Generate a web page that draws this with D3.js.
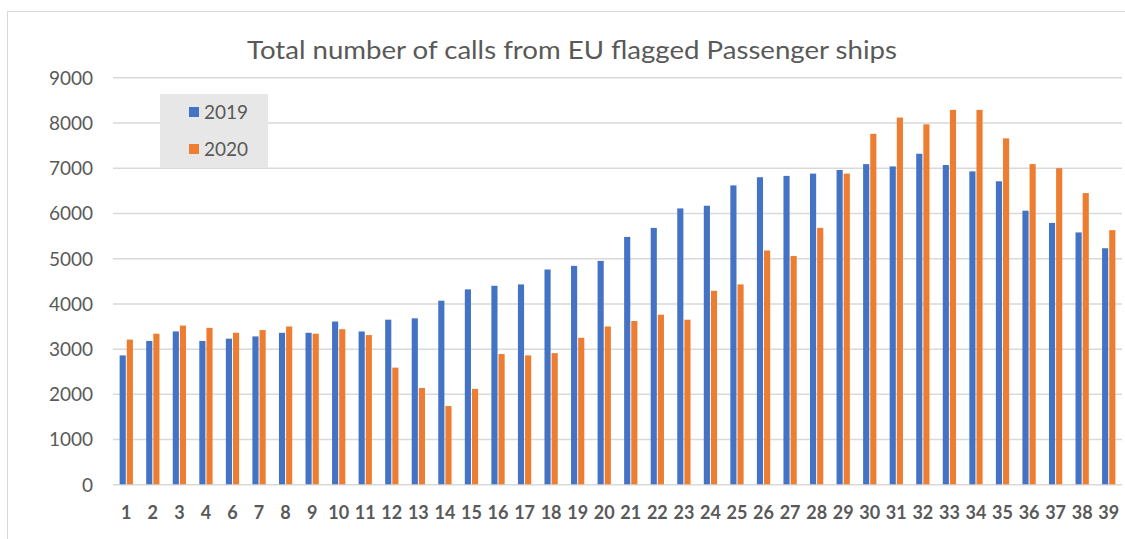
<!DOCTYPE html>
<html>
<head>
<meta charset="utf-8">
<script src="https://cdn.jsdelivr.net/npm/d3@7"></script>
<style>
  html, body { margin: 0; padding: 0; background: #ffffff; }
  svg { display: block; }
</style>
</head>
<body>
<svg id="chart" width="1125" height="539"></svg>
<script>
// Week numbers (week 5 is absent from the source series)
const categories = ["1","2","3","4","6","7","8","9","10","11","12","13","14","15","16","17","18","19","20",
  "21","22","23","24","25","26","27","28","29","30","31","32","33","34","35","36","37","38","39"];

const series = ["2019", "2020"];

const values2019 = [2850,3170,3380,3170,3220,3270,3350,3350,3600,3380,3640,3670,4060,4310,4390,4420,4750,4830,4940,
  5470,5670,6100,6160,6610,6790,6820,6870,6950,7080,7030,7310,7060,6920,6700,6050,5780,5570,5220];

const values2020 = [3200,3330,3510,3460,3350,3410,3490,3330,3430,3300,2580,2130,1730,2110,2880,2850,2900,3240,3490,
  3610,3750,3640,4280,4420,5170,5050,5670,6870,7750,8110,7960,8280,8280,7650,7080,6990,6440,5620];

const yTicks = [0,1000,2000,3000,4000,5000,6000,7000,8000,9000];

const colors = { "2019": "#4472C4", "2020": "#ED7D31" };
const title = "Total number of calls from EU flagged Passenger ships";

const svg = d3.select("#chart");

// chart frame
svg.append("rect")
  .attr("x", 7.5).attr("y", 11.5)
  .attr("width", 1140).attr("height", 560)
  .attr("fill", "#ffffff")
  .attr("stroke", "#d9d9d9")
  .attr("stroke-width", 1);

const plot = { left: 113, right: 1122, top: 77.3, bottom: 484.3 };

const y = d3.scaleLinear().domain([0, 9000]).range([plot.bottom, plot.top]);

const x0 = d3.scaleBand()
  .domain(categories)
  .range([plot.left, plot.right])
  .paddingInner(0.5)
  .paddingOuter(0.25);

const x1 = d3.scaleBand()
  .domain(series)
  .range([0, x0.bandwidth()])
  .paddingInner(0.14);

// horizontal gridlines
const yAxis = d3.axisLeft(y)
  .tickValues(yTicks)
  .tickSize(-(plot.right - plot.left))
  .tickPadding(20)
  .tickFormat(d3.format("d"));

const gy = svg.append("g")
  .attr("transform", `translate(${plot.left},0)`)
  .call(yAxis);
gy.select(".domain").remove();
gy.selectAll(".tick line")
  .attr("stroke", "#d9d9d9")
  .attr("stroke-width", 1.5);
gy.selectAll(".tick text")
  .attr("fill", "#595959")
  .attr("font-family", "Lato, 'Open Sans', sans-serif")
  .attr("font-size", 19)
  .attr("dy", "0.36em");

// bars
const rows = categories.map((c, i) => ({ cat: c, "2019": values2019[i], "2020": values2020[i] }));

const groups = svg.append("g")
  .selectAll("g")
  .data(rows)
  .join("g")
  .attr("transform", d => `translate(${x0(d.cat)},0)`);

groups.selectAll("rect")
  .data(d => series.map(s => ({ key: s, value: d[s] })))
  .join("rect")
  .attr("x", d => x1(d.key))
  .attr("y", d => y(d.value))
  .attr("width", x1.bandwidth())
  .attr("height", d => y(0) - y(d.value))
  .attr("fill", d => colors[d.key]);

// x axis labels
const xAxis = d3.axisBottom(x0).tickSize(0).tickPadding(22);
const gx = svg.append("g")
  .attr("transform", `translate(0,${plot.bottom})`)
  .call(xAxis);
gx.select(".domain").remove();
gx.selectAll(".tick text")
  .attr("fill", "#595959")
  .attr("font-family", "Lato, 'Open Sans', sans-serif")
  .attr("font-weight", "bold")
  .attr("font-size", 18);

// title
svg.append("text")
  .attr("x", 572)
  .attr("y", 59)
  .attr("text-anchor", "middle")
  .attr("fill", "#595959")
  .attr("font-family", "Lato, 'Open Sans', sans-serif")
  .attr("font-size", 25)
  .attr("textLength", 650)
  .attr("lengthAdjust", "spacingAndGlyphs")
  .text(title);

// legend
const legend = svg.append("g").attr("transform", "translate(160,94)");
legend.append("rect")
  .attr("width", 108).attr("height", 74)
  .attr("fill", "#e7e7e7");
series.forEach((s, i) => {
  const row = legend.append("g").attr("transform", `translate(29,${18 + i * 37})`);
  row.append("rect")
    .attr("x", 0).attr("y", -5)
    .attr("width", 10).attr("height", 10)
    .attr("fill", colors[s]);
  row.append("text")
    .attr("x", 15)
    .attr("y", 0)
    .attr("dy", "0.36em")
    .attr("fill", "#595959")
    .attr("font-family", "Lato, 'Open Sans', sans-serif")
    .attr("font-size", 19)
    .text(s);
});
</script>
</body>
</html>
